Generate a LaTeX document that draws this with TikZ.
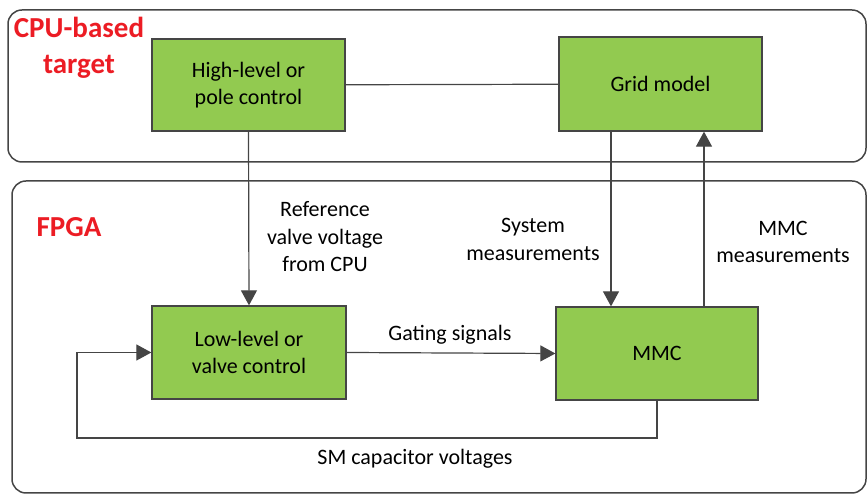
\documentclass[tikz,border=0pt]{standalone}
\usepackage{fontspec}
\setmainfont{Carlito}
\usetikzlibrary{arrows.meta, calc}

\definecolor{boxgreen}{HTML}{92CA50}
\definecolor{linegray}{HTML}{454545}
\definecolor{labelred}{HTML}{EC1C24}

\begin{document}
\begin{tikzpicture}[x=1pt, y=1pt,
    % Define the style for the green blocks
    block/.style={
        draw=linegray, line width=1.3pt, fill=boxgreen,
        align=center, inner sep=0pt,
        font=\fontsize{22}{27.5}\selectfont
    },
    % Define the style for the rounded containers
    region/.style={draw=linegray, line width=1.5pt, rounded corners=14pt},
    % Define the style for the arrows
    arr/.style={draw=linegray, line width=1.2pt, -{Triangle[length=15pt, width=16pt]}},
    wire/.style={draw=linegray, line width=1.2pt},
    txt/.style={align=center, font=\fontsize{22}{27.5}\selectfont},
    tag/.style={align=center, text=labelred, font=\fontsize{29}{35.5}\selectfont\bfseries}
]

\useasboundingbox (0,0) rectangle (867,494);

% Draw the two regions
\draw[region] (8,484) rectangle (866,332);
\draw[region] (12,313) rectangle (866,1);

% Region labels
\node[tag] (cpu) at (79,446) {CPU-based\\target};
\node[tag] (fpga) at (69,267) {FPGA};

% Define the blocks
\node[block, minimum width=193pt, minimum height=92pt] (high) at (248.5,409) {High-level or\\pole control};
\node[block, minimum width=203pt, minimum height=94pt] (grid) at (660.5,410) {Grid model};
\node[block, minimum width=194pt, minimum height=93pt] (low) at (249,141.5) {Low-level or\\valve control};
\node[block, minimum width=202pt, minimum height=93pt] (mmc) at (657,140.5) {MMC};

% Define the points for the vertical links
\coordinate (sysx) at (611,0);
\coordinate (mmcx) at (704,0);
\coordinate (fb) at (77,56);

% Draw the links
\draw[wire] (high) -- (grid);
\draw[arr] (high.south) -- (low.north);
\draw[arr] (grid.south -| sysx) -- (mmc.north -| sysx);
\draw[arr] (mmc.north -| mmcx) -- (grid.south -| mmcx);
\draw[arr] (low.east) -- (mmc.west);
\draw[arr] (mmc.south) |- (fb) |- (low.west);

% Add the link labels
\node[txt] (ref) at (325,257) {Reference\\valve voltage\\from CPU};
\node[txt] (sys) at (533,254.5) {System\\measurements};
\node[txt] (meas) at (783,252) {MMC\\measurements};
\node[txt] (gate) at (450,159) {Gating signals};
\node[txt] (smc) at (415,35) {SM capacitor voltages};

\end{tikzpicture}
\end{document}
